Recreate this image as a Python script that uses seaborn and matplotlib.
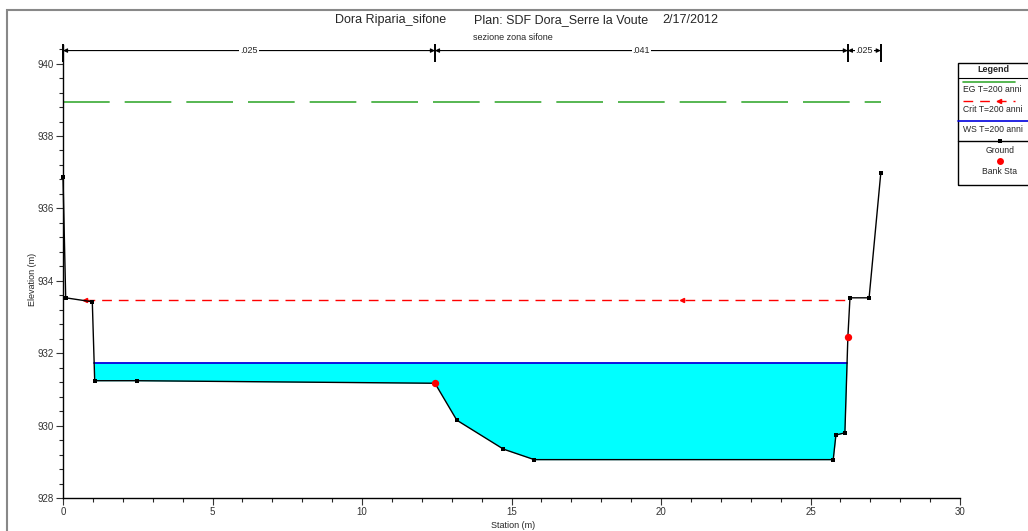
import numpy as np
import matplotlib
matplotlib.use("Agg")
import matplotlib.pyplot as plt
import matplotlib.patches as patches
from matplotlib.lines import Line2D
import seaborn as sns

# cross section data
ground_sta = [0.0, 0.09, 0.98, 1.06, 2.46, 12.44, 13.17, 14.73, 15.76, 25.76, 25.85, 26.15, 26.25, 26.32, 26.96, 27.35]
ground_elev = [936.87, 933.53, 933.42, 931.24, 931.24, 931.17, 930.15, 929.35, 929.06, 929.06, 929.74, 929.80, 932.45, 933.53, 933.53, 936.97]
bank_sta = [12.44, 26.25]
bank_elev = [931.17, 932.45]

ws_elev = 931.73
ws_sta = [1.04, 26.22]
crit_elev = 933.48
crit_sta = [0.75, 26.32]
crit_arrows = [0.75, 20.7]
eg_elev = 938.94
eg_sta = [0.0, 27.35]

n_sta = [0.0, 12.44, 26.25, 27.35]
n_vals = [".025", ".041", ".025"]

W, H = 1028, 531
sns.set_style("ticks")
plt.rcParams['font.family'] = ['Liberation Sans', 'DejaVu Sans']

fig = plt.figure(figsize=(W / 100, H / 100), dpi=100)
ax = fig.add_axes([63 / W, 33 / H, 897 / W, 452.5 / H])

# water fill between ground and WS
gs = np.array(ground_sta)
ge = np.array(ground_elev)
ax.fill_between(gs, ge, ws_elev, where=ge < ws_elev, interpolate=True, color='#00ffff', lw=0, zorder=1)

# EG line
ax.plot(eg_sta, [eg_elev] * 2, color='#3aaa35', lw=1.2, dashes=(28, 9), zorder=2)
# crit line
ax.plot(crit_sta, [crit_elev] * 2, color='#ff0000', lw=1.0, dashes=(7, 5), zorder=2)
ax.plot(crit_arrows, [crit_elev] * 2, ls='none', marker='<', ms=3, color='#ff0000', zorder=3)
# WS line
ax.plot(ws_sta, [ws_elev] * 2, color='#0000dd', lw=1.3, zorder=3)

# ground + bank stations
sns.lineplot(x=ground_sta, y=ground_elev, sort=False, color='black', lw=1.0,
             marker='s', markersize=3.2, markeredgewidth=0, ax=ax, zorder=4, clip_on=False)
sns.scatterplot(x=bank_sta, y=bank_elev, color='#ff0000', s=28, linewidth=0, ax=ax, zorder=5)

# n-value brackets
ny = 940.36
for a, b, lab in zip(n_sta[:-1], n_sta[1:], n_vals):
    ax.annotate('', xy=(a, ny), xytext=(b, ny),
                arrowprops=dict(arrowstyle='<|-|>', lw=0.8, color='black',
                                shrinkA=0, shrinkB=0, mutation_scale=6), annotation_clip=False)
    ax.text((a + b) / 2, ny, lab, ha='center', va='center', fontsize=6.5,
            bbox=dict(facecolor='white', edgecolor='none', pad=0.6), zorder=6)
ax.vlines(n_sta, 940.05, 940.54, color='black', lw=1.4, clip_on=False)

ax.set_xlim(0, 30)
ax.set_ylim(928, 940.5)
ax.set_xticks(np.arange(0, 31, 5))
ax.set_xticks(np.arange(0, 31, 1), minor=True)
ax.set_yticks(np.arange(928, 941, 2))
ax.set_yticks(np.arange(928, 940.5, 0.4), minor=True)
ax.tick_params(which='major', length=5, width=0.8, labelsize=7, pad=1.5, colors='#333333')
ax.tick_params(which='minor', length=3, width=0.8)
sns.despine(ax=ax)
for s in ['left', 'bottom']:
    ax.spines[s].set_linewidth(1.0)
    ax.spines[s].set_color('black')

ax.set_xlabel('Station (m)', fontsize=6.5)
ax.set_ylabel('Elevation (m)', fontsize=6.5)
ax.xaxis.set_label_coords(0.502, -0.05)
ax.yaxis.set_label_coords(-0.029, 0.482)

# titles
fig.text(391 / W, 1 - 20 / H, 'Dora Riparia_sifone', ha='center', va='center', fontsize=9)
fig.text(561 / W, 1 - 20 / H, 'Plan: SDF Dora_Serre la Voute', ha='center', va='center', fontsize=9)
fig.text(690 / W, 1 - 20 / H, '2/17/2012', ha='center', va='center', fontsize=9)
fig.text(513 / W, 1 - 37 / H, 'sezione zona sifone', ha='center', va='center', fontsize=6.5)

# outer frame
fig.patches.append(patches.Rectangle((7 / W, -0.05), 1.2, 1 - 10 / H + 0.05, transform=fig.transFigure,
                                     fill=False, edgecolor='#888888', lw=1.5))

# legend box drawn by hand
def fx(px):
    return px / W

def fy(py):
    return 1 - py / H

fig.patches.append(patches.Rectangle((fx(958), fy(185)), 0.2, (185 - 63) / H, transform=fig.transFigure,
                                     fill=False, edgecolor='black', lw=1.0))
fig.lines.append(Line2D([fx(958), 1.1], [fy(78), fy(78)], transform=fig.transFigure, color='black', lw=0.8))
fig.text(fx(993), fy(70), 'Legend', ha='center', va='center', fontsize=6.5, fontweight='bold')
fig.lines.append(Line2D([fx(963), fx(1015)], [fy(82), fy(82)], transform=fig.transFigure, color='#3aaa35', lw=1.2))
fig.text(fx(963), fy(90), 'EG T=200 anni', ha='left', va='center', fontsize=6.2)
fig.lines.append(Line2D([fx(963), fx(1015)], [fy(101), fy(101)], transform=fig.transFigure,
                        color='#ff0000', lw=1.0, dashes=(7, 5)))
fig.lines.append(Line2D([fx(999)], [fy(101)], transform=fig.transFigure, color='#ff0000', marker='<', ms=3))
fig.text(fx(963), fy(110), 'Crit T=200 anni', ha='left', va='center', fontsize=6.2)
fig.lines.append(Line2D([fx(958), 1.1], [fy(121), fy(121)], transform=fig.transFigure, color='#0000dd', lw=1.2))
fig.text(fx(963), fy(130), 'WS T=200 anni', ha='left', va='center', fontsize=6.2)
fig.lines.append(Line2D([fx(958), 1.1], [fy(141), fy(141)], transform=fig.transFigure, color='black', lw=1.0))
fig.lines.append(Line2D([fx(1000)], [fy(141)], transform=fig.transFigure, color='black', marker='s', ms=3.2, mew=0))
fig.text(fx(1000), fy(150), 'Ground', ha='center', va='center', fontsize=6.2)
fig.lines.append(Line2D([fx(1000)], [fy(161)], transform=fig.transFigure, color='#ff0000', marker='o', ms=5, mew=0))
fig.text(fx(1000), fy(171), 'Bank Sta', ha='center', va='center', fontsize=6.2)

fig.savefig('out.png', dpi=100)
